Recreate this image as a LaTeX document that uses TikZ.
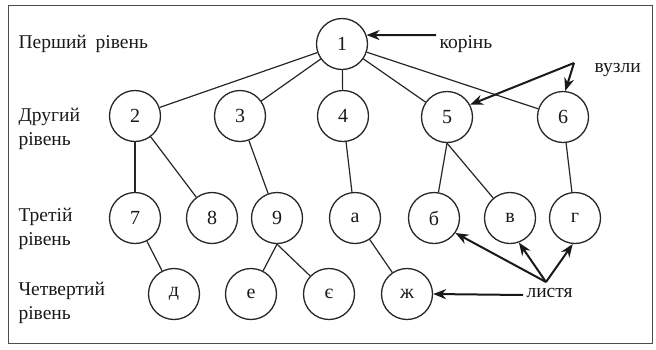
\documentclass[tikz,border=0pt]{standalone}
\usepackage{fontspec}
\setmainfont{Liberation Serif}
\usetikzlibrary{arrows.meta}
\begin{document}
\begin{tikzpicture}[x=1pt,y=-1pt,
  vert/.style={circle,draw=black!85,line width=1.3pt,minimum size=51pt,inner sep=0pt,font=\fontsize{20}{22}\selectfont,text=black!90},
  lvl/.style={anchor=west,align=left,font=\fontsize{19.5}{23.5}\selectfont,text=black!90},
  lbl/.style={font=\fontsize{19.5}{22}\selectfont,text=black!90},
  edge/.style={draw=black!85,line width=1.2pt},
  pointer/.style={draw=black!90,line width=2pt,-{Stealth[length=13pt,width=10pt]}}]
\useasboundingbox (0,0) rectangle (656,349);
\draw[black!70,line width=1pt] (8,5) rectangle (652,343);
% level labels
\node[lvl] (l1) at (15,44) {Перший\hspace{0.45em}рівень};
\node[lvl] (l2) at (15,129) {Другий\\рівень};
\node[lvl] (l3) at (15,229) {Третій\\рівень};
\node[lvl] (l4) at (15,303) {Четвертий\\рівень};
% nodes
\node[vert] (n1) at (342,44) {1};
\node[vert] (n2) at (135,116) {2};
\node[vert] (n3) at (240,116) {3};
\node[vert] (n4) at (343,116) {4};
\node[vert] (n5) at (447,117) {5};
\node[vert] (n6) at (563,117) {6};
\node[vert] (n7) at (135,218) {7};
\node[vert] (n8) at (212,218) {8};
\node[vert] (n9) at (277,218) {9};
\node[vert] (na) at (355,218) {а};
\node[vert] (nb) at (434,218) {б};
\node[vert] (nv) at (510,218) {в};
\node[vert] (ng) at (575,218) {г};
\node[vert] (nd) at (174,294) {д};
\node[vert] (ne) at (251,294) {е};
\node[vert] (nie) at (329,294) {є};
\node[vert] (nzh) at (407,294) {ж};
% edges
\draw[edge] (n1) -- (n2);
\draw[edge] (n1) -- (n3);
\draw[edge] (n1) -- (n4);
\draw[edge] (n1) -- (n5);
\draw[edge] (n1) -- (n6);
\draw[edge] (n2) -- (n7);
\draw[edge] (n2) -- (n8);
\draw[edge] (n3) -- (n9);
\draw[edge] (n4) -- (na);
\draw[edge] (n5.south) -- (nb);
\draw[edge] (n5.south) -- (nv);
\draw[edge] (n6) -- (ng);
\draw[edge] (n7) -- (nd);
\draw[edge] (n9.south) -- (ne);
\draw[edge] (n9.south) -- (nie);
\draw[edge] (na) -- (nzh);
% annotations
\node[lbl,anchor=west] (root) at (436,44) {корінь};
\draw[pointer] (root.west |- 0,35) coordinate (rootc) -- (n1.20);
\node[lbl,anchor=west] (nodes) at (591,70) {вузли};
\coordinate (vc) at (574,63);
\draw[pointer] (vc) -- (n5.28);
\draw[pointer] (vc) -- (n6.85);
\node[lbl,anchor=west] (leaves) at (523,293) {листя};
\coordinate (lc) at (546,282);
\draw[pointer] (lc) -- (nb.-35);
\draw[pointer] (lc) -- (nv.-70);
\draw[pointer] (lc) -- (ng.-95);
\draw[pointer] (leaves.west |- 0,295) -- (nzh.east);
\end{tikzpicture}
\end{document}
